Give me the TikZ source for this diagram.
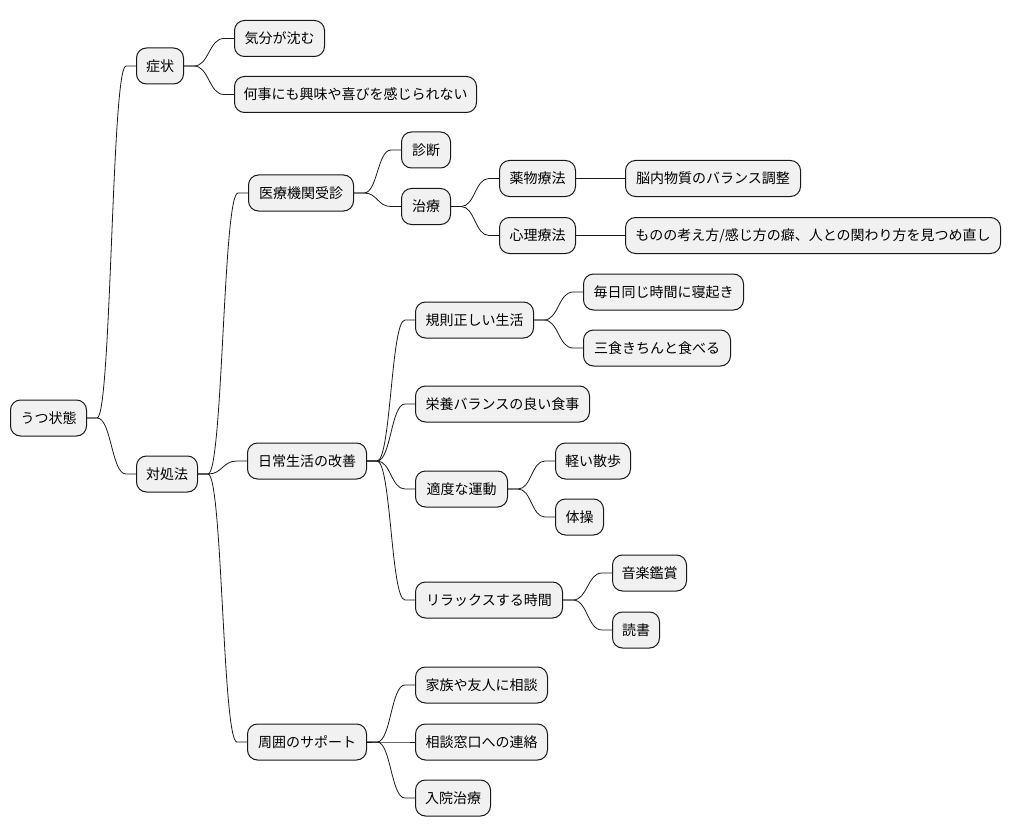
\documentclass[tikz,border=0pt]{standalone}
\usepackage{fontspec}
\setmainfont{Noto Sans CJK JP}
\usetikzlibrary{calc}
\definecolor{nodefill}{HTML}{F1F1F1}
\definecolor{nodeline}{HTML}{181818}
\tikzset{
  mm/.style={draw=nodeline, fill=nodefill, line width=1pt, rounded corners=10pt,
    anchor=west, minimum height=36pt, inner xsep=1pt, inner ysep=0pt,
    font=\fontsize{14}{16}\selectfont, text=black},
  conn/.style={draw=nodeline, line width=0.8pt}
}
\newcommand\mmlink[2]{\draw[conn] let \p1=(#1.east), \p2=(#2.west) in
  (\p1) -- (\x1+10pt,\y1) .. controls ({(\x1+\x2)/2},\y1) and ({(\x1+\x2)/2},\y2) .. (\x2-10pt,\y2) -- (\p2);}
\begin{document}
\begin{tikzpicture}[x=1pt,y=-1pt]
\useasboundingbox (0,0) rectangle (1011,837);
\node[mm, minimum width=76pt] (root) at (10,418) {うつ状態};
\node[mm, minimum width=47pt] (s1) at (136,66) {症状};
\node[mm, minimum width=90pt] (s1a) at (234,38.5) {気分が沈む};
\node[mm, minimum width=242pt] (s1b) at (234,94.5) {何事にも興味や喜びを感じられない};
\node[mm, minimum width=61pt] (s2) at (136,474) {対処法};
\node[mm, minimum width=105pt] (a) at (248,193) {医療機関受診};
\node[mm, minimum width=49pt] (a1) at (401,150) {診断};
\node[mm, minimum width=49pt] (a2) at (401,206.5) {治療};
\node[mm, minimum width=76pt] (a21) at (499,178.5) {薬物療法};
\node[mm, minimum width=175pt] (a211) at (625,178.5) {脳内物質のバランス調整};
\node[mm, minimum width=76pt] (a22) at (499,235.5) {心理療法};
\node[mm, minimum width=375pt] (a221) at (625,235.5) {ものの考え方/感じ方の癖、人との関わり方を見つめ直し};
\node[mm, minimum width=119pt] (b) at (247,461) {日常生活の改善};
\node[mm, minimum width=118pt] (b1) at (415,320) {規則正しい生活};
\node[mm, minimum width=160pt] (b11) at (583,292) {毎日同じ時間に寝起き};
\node[mm, minimum width=147pt] (b12) at (583,348) {三食きちんと食べる};
\node[mm, minimum width=174pt] (b2) at (415,404) {栄養バランスの良い食事};
\node[mm, minimum width=92pt] (b3) at (415,489) {適度な運動};
\node[mm, minimum width=75pt] (b31) at (555,461) {軽い散歩};
\node[mm, minimum width=48pt] (b32) at (555,517) {体操};
\node[mm, minimum width=147pt] (b4) at (415,600) {リラックスする時間};
\node[mm, minimum width=74pt] (b41) at (612,573) {音楽鑑賞};
\node[mm, minimum width=47pt] (b42) at (612,630) {読書};
\node[mm, minimum width=119pt] (c) at (247,742) {周囲のサポート};
\node[mm, minimum width=132pt] (c1) at (415,685) {家族や友人に相談};
\node[mm, minimum width=132pt] (c2) at (415,742) {相談窓口への連絡};
\node[mm, minimum width=75pt] (c3) at (415,798) {入院治療};
\mmlink{root}{s1}
\mmlink{root}{s2}
\mmlink{s1}{s1a}
\mmlink{s1}{s1b}
\mmlink{s2}{a}
\mmlink{s2}{b}
\mmlink{s2}{c}
\mmlink{a}{a1}
\mmlink{a}{a2}
\mmlink{a2}{a21}
\mmlink{a2}{a22}
\mmlink{a21}{a211}
\mmlink{a22}{a221}
\mmlink{b}{b1}
\mmlink{b}{b2}
\mmlink{b}{b3}
\mmlink{b}{b4}
\mmlink{b1}{b11}
\mmlink{b1}{b12}
\mmlink{b3}{b31}
\mmlink{b3}{b32}
\mmlink{b4}{b41}
\mmlink{b4}{b42}
\mmlink{c}{c1}
\mmlink{c}{c2}
\mmlink{c}{c3}
\end{tikzpicture}
\end{document}
